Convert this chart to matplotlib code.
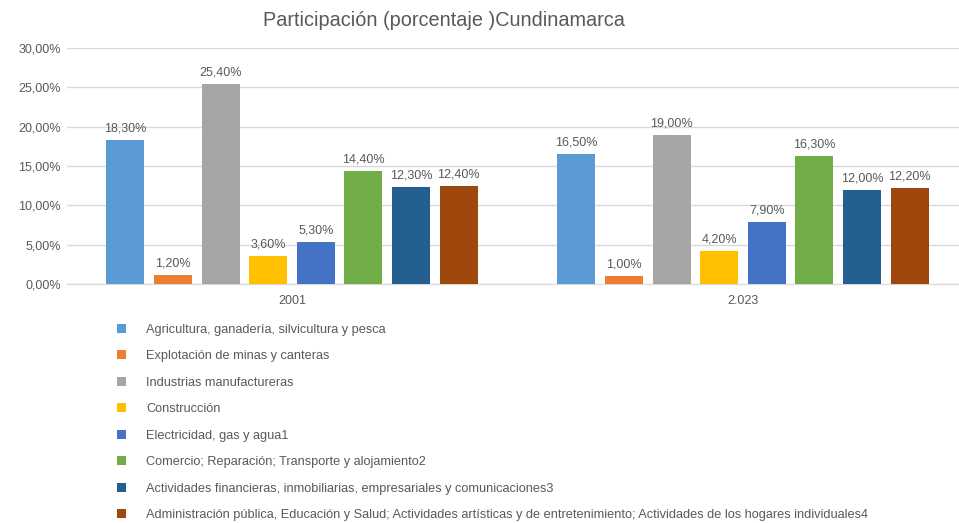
import matplotlib.pyplot as plt
import numpy as np
from matplotlib.patches import Patch

plt.rcParams['font.family'] = ['Liberation Sans', 'DejaVu Sans']

years = ['2001', '2.023']
sectors = [
    'Agricultura, ganadería, silvicultura y pesca',
    'Explotación de minas y canteras',
    'Industrias manufactureras',
    'Construcción',
    'Electricidad, gas y agua1',
    'Comercio; Reparación; Transporte y alojamiento2',
    'Actividades financieras, inmobiliarias, empresariales y comunicaciones3',
    'Administración pública, Educación y Salud; Actividades artísticas y de entretenimiento; Actividades de los hogares individuales4',
]
values_2001 = [18.3, 1.2, 25.4, 3.6, 5.3, 14.4, 12.3, 12.4]
values_2023 = [16.5, 1.0, 19.0, 4.2, 7.9, 16.3, 12.0, 12.2]
colors = ['#5B9BD5', '#ED7D31', '#A5A5A5', '#FFC000', '#4472C4', '#70AD47', '#255E91', '#9E480E']

fig = plt.figure(figsize=(9.59, 5.23), dpi=100)
ax = fig.add_axes([66.5/959, 239/523, 902/959, 236/523])

n = len(sectors)
slot = 47.6/451
bw = 38/451
x = np.arange(len(years))
txtc = '#595959'
for i in range(n):
    vals = [values_2001[i], values_2023[i]]
    pos = x + (i - (n-1)/2) * slot
    bars = ax.bar(pos, vals, width=bw, color=colors[i], zorder=3, label=sectors[i])
    for p, v in zip(pos, vals):
        ax.text(p, v + 0.7, f'{v:.2f}%'.replace('.', ','), ha='center', va='bottom',
                fontsize=9, color=txtc)

ax.set_xlim(-0.5, 1.5)
ax.set_ylim(0, 30)
ax.set_yticks(np.arange(0, 31, 5))
ax.set_yticklabels([f'{t:.2f}%'.replace('.', ',') for t in np.arange(0, 31, 5)])
ax.set_xticks(x)
ax.set_xticklabels(years)
ax.tick_params(axis='both', length=0, labelsize=9, colors=txtc)
ax.tick_params(axis='x', pad=8)
ax.tick_params(axis='y', pad=4)
ax.grid(axis='y', color='#D9D9D9', linewidth=1, zorder=0)
for s in ['top', 'right', 'left']:
    ax.spines[s].set_visible(False)
ax.spines['bottom'].set_color('#D9D9D9')

fig.text(444/959, 1 - 20/523, 'Participación (porcentaje )Cundinamarca', ha='center', va='center',
         fontsize=14.3, color=txtc)

handles = [Patch(facecolor=c) for c in colors]
leg = fig.legend(handles, sectors, loc='upper left', bbox_to_anchor=(117/959, 1 - 324/523),
                 frameon=False, fontsize=9.2, handlelength=0.7, handleheight=0.7,
                 labelspacing=1.13, handletextpad=1.6, borderaxespad=0, borderpad=0)
for t in leg.get_texts():
    t.set_color(txtc)

fig.savefig('out.png', dpi=100)
